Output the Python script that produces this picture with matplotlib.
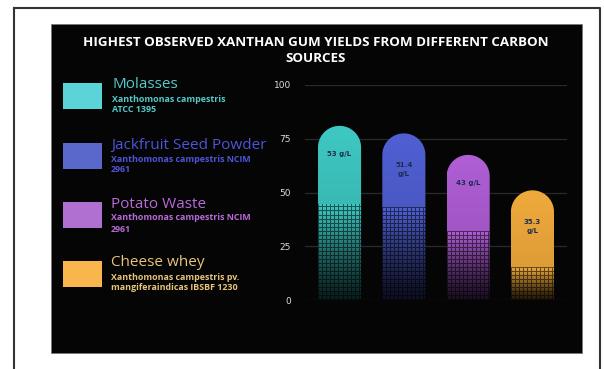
import numpy as np
import matplotlib
matplotlib.use("Agg")
from matplotlib import pyplot as plt
from matplotlib.patches import Rectangle, PathPatch
from matplotlib.path import Path

sources = ["Molasses", "Jackfruit Seed Powder", "Potato Waste", "Cheese whey"]
strains = ["Xanthomonas campestris\nATCC 1395",
           "Xanthomonas campestris NCIM\n2961",
           "Xanthomonas campestris NCIM\n2961",
           "Xanthomonas campestris pv.\nmangiferaindicas IBSBF 1230"]
heights = [81, 77.5, 67.5, 51]
bar_labels = ["53 g/L", "51.4\ng/L", "43 g/L", "35.3\ng/L"]
yticks = [0, 25, 50, 75, 100]

bar_colors = ["#3ec9c4", "#5060d4", "#b05ed6", "#f0aa3c"]
key_colors = ["#5ad4d6", "#5a68cc", "#b070d2", "#f8b64c"]
text_colors = ["#56c9c9", "#4d55d8", "#b86ad8", "#e9c47a"]
grid_top = [44, 43, 32, 15]   # where the dotted fade starts on each bar

W, H = 604, 369
fig = plt.figure(figsize=(W / 100, H / 100), dpi=100, facecolor="white")

# background layer in pixel coords
bg = fig.add_axes([0, 0, 1, 1], zorder=0)
bg.set_xlim(0, W)
bg.set_ylim(H, 0)
bg.axis("off")
bg.plot([14, 600, 600], [8, 8, H], color="#333333", lw=1.5)
bg.plot([14, 14], [8, H], color="#333333", lw=1.5)
bg.add_patch(Rectangle((51, 24), 531, 329, facecolor="#050505", edgecolor="#777777", lw=0.6))

bg.text(316, 43, "HIGHEST OBSERVED XANTHAN GUM YIELDS FROM DIFFERENT CARBON", color="white",
        fontsize=9.6, fontweight="bold", ha="center", va="center", family="Open Sans")
bg.text(316, 58, "SOURCES", color="white",
        fontsize=9.6, fontweight="bold", ha="center", va="center", family="Open Sans")

key_y = [83, 143, 202, 261]
for i in range(4):
    y = key_y[i]
    bg.add_patch(Rectangle((63, y), 39, 26, facecolor=key_colors[i], edgecolor="none"))
    bg.text(113 if i == 0 else 111, y + 2, sources[i], color=text_colors[i], fontsize=11,
            ha="left", va="center", family="Open Sans")
    lines = strains[i].split("\n")
    for j, ln in enumerate(lines):
        bg.text(112 if i == 0 else 111, y + 16 + j * 11, ln, color=text_colors[i], fontsize=6.4,
                fontweight="bold", ha="left", va="center", family="Open Sans")

# chart
ax = fig.add_axes([305 / W, (H - 300) / H, 262 / W, 215 / H], zorder=1)
ax.set_facecolor("none")
for s in ax.spines.values():
    s.set_visible(False)
ax.set_yticks(yticks)
ax.set_xticks([])
ax.tick_params(axis="y", length=0, pad=10, labelsize=6.5, labelcolor="#dddddd")
ax.grid(axis="y", color="#2a2a2a", lw=0.9)
ax.set_axisbelow(True)

bw = 0.67
ry = 10.0
px_per_val = 215 / 100
for i in range(4):
    h = heights[i]
    x0, x1 = i - bw / 2, i + bw / 2
    th = np.linspace(np.pi, 0, 40)
    arc = np.column_stack([i + bw / 2 * np.cos(th), h - ry + ry * np.sin(th)])
    verts = np.vstack([[x0, 0], [x0, h - ry], arc, [x1, 0], [x0, 0]])
    codes = [Path.MOVETO] + [Path.LINETO] * (len(verts) - 2) + [Path.CLOSEPOLY]
    patch = PathPatch(Path(verts, codes), facecolor="none", edgecolor="none")
    ax.add_patch(patch)

    rows = int(round(h * px_per_val))
    cols = 43
    rgb = np.array(matplotlib.colors.to_rgb(bar_colors[i]))
    img = np.ones((rows, cols, 3)) * rgb
    g = grid_top[i] * px_per_val
    for r in range(rows):
        if r < g:
            f = 0.15 + 0.85 * (r / g) ** 1.2
            img[r] = rgb * f
            for c in range(cols):
                if r % 4 == 0 or c % 4 == 0:
                    img[r, c] = rgb * f * 0.45
        else:
            img[r] = rgb * (0.92 + 0.08 * (r - g) / max(rows - g, 1))
    im = ax.imshow(img, extent=(x0, x1, 0, h), origin="lower", aspect="auto",
                   interpolation="nearest", zorder=2)
    im.set_clip_path(patch)

    ty = h - 13 if "\n" not in bar_labels[i] else h - 17
    ax.text(i, ty, bar_labels[i], ha="center", va="center", fontsize=5, color="#1d2d50",
            fontweight="bold", zorder=3, linespacing=1.6)

ax.set_xlim(-0.537, 3.537)
ax.set_ylim(0, 100)

fig.savefig("out.png", dpi=100, facecolor="white")
